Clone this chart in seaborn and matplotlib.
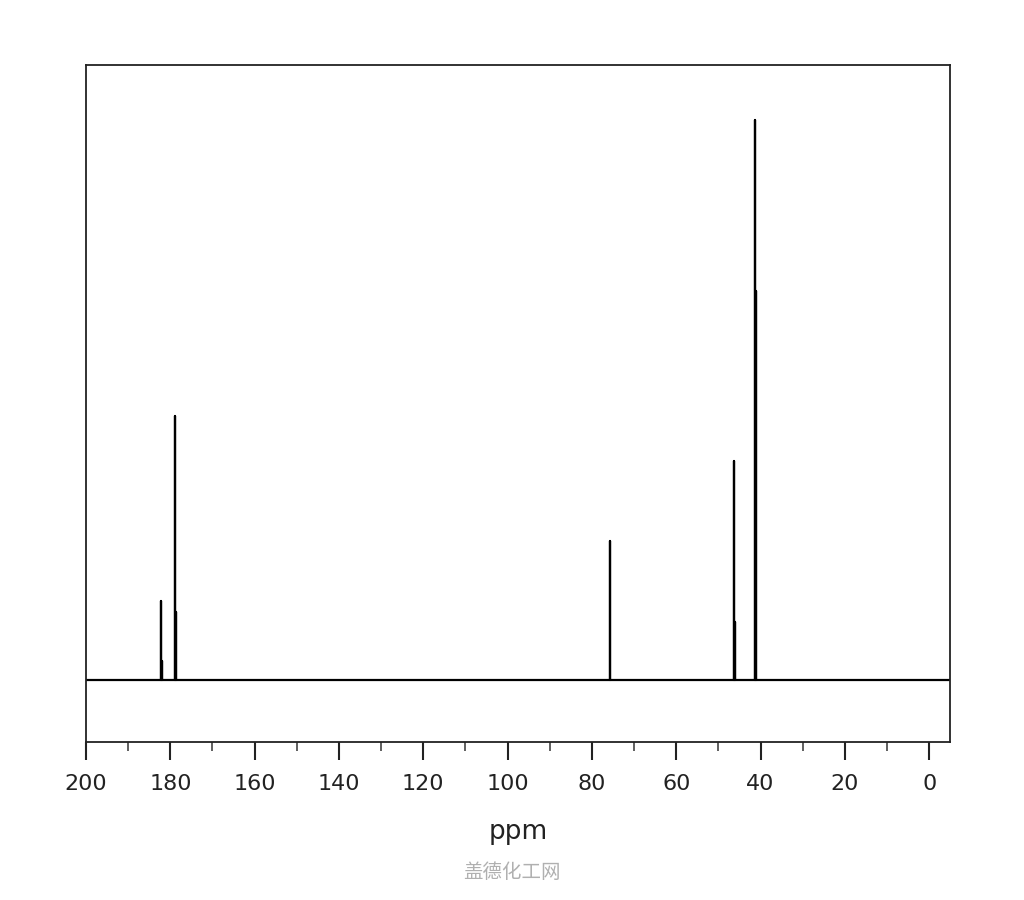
import numpy as np
import pandas as pd
import seaborn as sns
import matplotlib.pyplot as plt

# peak list (ppm, relative height; baseline = 0)
peak_ppm = [182.2, 182.0, 179.0, 178.75, 75.7, 46.3, 46.05, 41.3, 41.05]
peak_height = [79, 19, 264, 68, 139, 219, 58, 560, 389]

x_min, x_max = -5, 200
major_ticks = [200, 180, 160, 140, 120, 100, 80, 60, 40, 20, 0]
minor_ticks = [190, 170, 150, 130, 110, 90, 70, 50, 30, 10]

# stick trace: baseline with a spike up at every peak
xs = [x_max]
ys = [0]
for p, h in sorted(zip(peak_ppm, peak_height), reverse=True):
    xs += [p, p, p]
    ys += [0, h, 0]
xs.append(x_min)
ys.append(0)
df = pd.DataFrame({'ppm': xs, 'intensity': ys})

sns.set_style('white')
plt.rcParams['font.family'] = ['DejaVu Sans', 'Noto Sans CJK SC']

fig = plt.figure(figsize=(10.24, 9), dpi=100)
ax = fig.add_axes([0.084, 0.1756, 0.844, 0.7522])

sns.lineplot(data=df, x='ppm', y='intensity', sort=False, estimator=None,
             color='black', linewidth=1.6, ax=ax)

ax.set_xlim(x_max, x_min)
ax.set_ylim(-62, 615)
ax.set_yticks([])
ax.set_xticks(major_ticks)
ax.set_xticks(minor_ticks, minor=True)
ax.set_xticklabels([str(t) for t in major_ticks])
ax.tick_params(axis='x', which='major', direction='out', length=13, width=1.5,
               pad=10, labelsize=16, bottom=True, color='#222222',
               labelcolor='#222222')
ax.tick_params(axis='x', which='minor', direction='out', length=6.5, width=1.2,
               bottom=True, color='#444444')
ax.set_xlabel('ppm', fontsize=19, labelpad=18, color='#222222')
ax.set_ylabel('')
for s in ax.spines.values():
    s.set_visible(True)
    s.set_color('#222222')
    s.set_linewidth(1.3)

fig.text(0.5, 1 - 873 / 900, '盖德化工网', ha='center', va='center',
         fontsize=14, color='#b0b0b0', family=['Noto Sans CJK SC', 'DejaVu Sans'])

fig.savefig('out.png', dpi=100, facecolor='white')
